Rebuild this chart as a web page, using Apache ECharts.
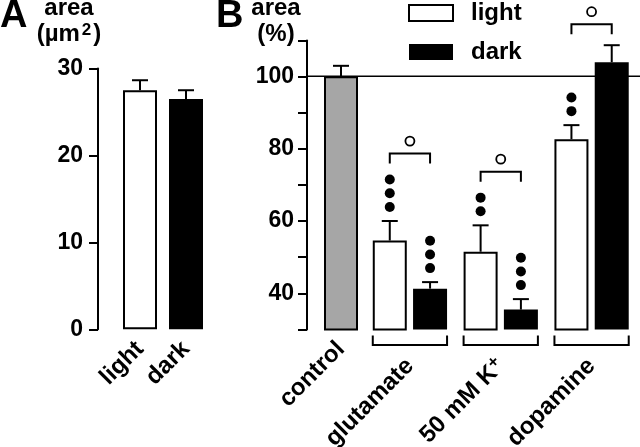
<!DOCTYPE html>
<html><head><meta charset="utf-8">
<script src="https://cdn.jsdelivr.net/npm/echarts@6/dist/echarts.min.js"></script>
<style>html,body{margin:0;padding:0;background:#fff}#c{width:640px;height:447px}</style>
</head><body><div id="c"></div>
<script>
// ---------- data ----------
const aCategories = ['light', 'dark'];
const aValues = [27.5, 26.5];
const aErrors = [1.15, 1.0];
const aTicks = [0, 10, 20, 30];

const bControlCategory = ['control'];
const bControlValue = [100];
const bControlError = [2.9];

const bCategories = ['glutamate', '50 mM K⁺', 'dopamine'];
const bLight = [54.6, 51.5, 82.6];
const bLightErr = [5.4, 7.3, 3.9];
const bDark = [41.3, 35.5, 103.9];
const bDarkErr = [1.8, 2.9, 4.7];
const bLightDots = [3, 2, 2];
const bDarkDots = [3, 3, 0];
const bPairSig = [1, 1, 1];
const bTickLabels = [40, 60, 80, 100];
const bRefLine = [100, 100];

// ---------- style constants ----------
const FONT = '"Liberation Sans", Arial, Helvetica, sans-serif';
const BAR_W = 34;
const BAR_GAP_PCT = 18.5;
const BAR_GAP_PX = BAR_W * BAR_GAP_PCT / 100;
const CAP = 8;
const DOT_R = 5, DOT_FIRST = 14, DOT_STEP = 13.7;
const LW = 2;
const B_MIN = 30, B_MAX = 109.9;
const GRAY = '#a6a6a6';

const chart = echarts.init(document.getElementById('c'), null, {renderer: 'canvas'});

function errShapes(x, yBar, yTop) {
  return [
    {type: 'line', shape: {x1: x, y1: yBar, x2: x, y2: yTop}, style: {stroke: '#000', lineWidth: LW}},
    {type: 'line', shape: {x1: x - CAP, y1: yTop, x2: x + CAP, y2: yTop}, style: {stroke: '#000', lineWidth: LW}}
  ];
}
function dotShapes(x, yTop, n, out) {
  let top = yTop;
  for (let k = 0; k < n; k++) {
    const cy = yTop - DOT_FIRST - k * DOT_STEP;
    out.push({type: 'circle', shape: {cx: x, cy: cy, r: DOT_R}, style: {fill: '#000'}});
    top = cy - DOT_R;
  }
  return top;
}

function renderSimpleErr(values, errors) {
  return function (params, api) {
    const i = params.dataIndex;
    const cat = api.value(0);
    const p1 = api.coord([cat, values[i]]);
    const p2 = api.coord([cat, values[i] + errors[i]]);
    return {type: 'group', children: errShapes(p1[0], p1[1], p2[1])};
  };
}

function renderB(params, api) {
  const i = params.dataIndex;
  const cat = api.value(0);
  const off = (BAR_W + BAR_GAP_PX) / 2;
  const base = api.coord([cat, B_MIN]);
  const cx = base[0], yBase = base[1];
  const xl = cx - off, xd = cx + off;
  const ch = [];
  const yLBar = api.coord([cat, bLight[i]])[1];
  const yLTop = api.coord([cat, bLight[i] + bLightErr[i]])[1];
  const yDBar = api.coord([cat, bDark[i]])[1];
  const yDTop = api.coord([cat, bDark[i] + bDarkErr[i]])[1];
  ch.push(...errShapes(xl, yLBar, yLTop));
  ch.push(...errShapes(xd, yDBar, yDTop));
  const tL = dotShapes(xl, yLTop, bLightDots[i], ch);
  const tD = dotShapes(xd, yDTop, bDarkDots[i], ch);
  if (bPairSig[i]) {
    const top = Math.min(tL, tD, yLTop, yDTop);
    const yEnd = top - 11;
    const yH = yEnd - 10;
    ch.push({type: 'polyline', shape: {points: [[xl, yEnd], [xl, yH], [xd, yH], [xd, yEnd]]},
             style: {stroke: '#000', lineWidth: LW, fill: null}});
    ch.push({type: 'circle', shape: {cx: cx, cy: yH - 12.5, r: 4.5},
             style: {stroke: '#000', lineWidth: 1.8, fill: '#fff'}});
  }
  // lower bracket grouping the pair
  const x0 = xl - BAR_W / 2, x1 = xd + BAR_W / 2;
  const yb0 = yBase + 6, yb1 = yBase + 15.5;
  ch.push({type: 'polyline', shape: {points: [[x0, yb0], [x0, yb1], [x1, yb1], [x1, yb0]]},
           style: {stroke: '#000', lineWidth: LW, fill: null}});
  return {type: 'group', children: ch};
}

const yLabelStyle = {color: '#000', fontFamily: FONT, fontWeight: 'bold', fontSize: 23};
const xLabelStyle = {color: '#000', fontFamily: FONT, fontWeight: 'bold', fontSize: 24, rotate: 45};

const gridTop = 40.5, gridBottom = 117.5;

const option = {
  animation: false,
  backgroundColor: '#fff',
  grid: [
    {left: 117, width: 92, top: 68.5, bottom: 117.7, outerBoundsMode: 'none', containLabel: false},
    {left: 307, width: 68, top: gridTop, bottom: gridBottom, outerBoundsMode: 'none', containLabel: false},
    {left: 364.5, width: 272.5, top: gridTop, bottom: gridBottom, outerBoundsMode: 'none', containLabel: false},
    {left: 307, right: 0, top: gridTop, bottom: gridBottom, outerBoundsMode: 'none', containLabel: false}
  ],
  xAxis: [
    {gridIndex: 0, type: 'category', data: aCategories, axisLine: {show: false}, axisTick: {show: false},
     axisLabel: Object.assign({margin: 16, interval: 0}, xLabelStyle)},
    {gridIndex: 1, type: 'category', data: bControlCategory, axisLine: {show: false}, axisTick: {show: false},
     axisLabel: Object.assign({margin: 16, interval: 0}, xLabelStyle)},
    {gridIndex: 2, type: 'category', data: bCategories, axisLine: {show: false}, axisTick: {show: false},
     axisLabel: Object.assign({margin: 33, interval: 0,
       formatter: function (v) { return v.indexOf('⁺') >= 0 ? '{n|' + v.replace('⁺', '') + '}{s|+}' : v; },
       rich: {n: {fontFamily: FONT, fontWeight: 'bold', fontSize: 24, color: '#000'},
              s: {fontFamily: FONT, fontWeight: 'bold', fontSize: 17, color: '#000', verticalAlign: 'top', padding: [0, 0, 10, 0]}}
     }, xLabelStyle)},
    {gridIndex: 3, type: 'category', data: ['', ''], boundaryGap: false, show: false}
  ],
  yAxis: [
    {gridIndex: 0, type: 'value', min: 0, max: 30, interval: 10, offset: 19,
     axisLine: {show: true, lineStyle: {color: '#000', width: LW}},
     axisTick: {show: true, length: 9, lineStyle: {color: '#000', width: LW}},
     splitLine: {show: false},
     axisLabel: Object.assign({margin: 15, formatter: function (v) { return aTicks.indexOf(v) >= 0 ? String(v) : ''; }}, yLabelStyle)},
    {gridIndex: 1, type: 'value', min: B_MIN, max: B_MAX, interval: 10,
     axisLine: {show: true, lineStyle: {color: '#000', width: LW}},
     axisTick: {show: true, length: 9, lineStyle: {color: '#000', width: LW}},
     splitLine: {show: false},
     axisLabel: Object.assign({margin: 13, formatter: function (v) { return bTickLabels.indexOf(v) >= 0 ? String(v) : ''; }}, yLabelStyle)},
    {gridIndex: 2, type: 'value', min: B_MIN, max: B_MAX, interval: 10, show: false},
    {gridIndex: 3, type: 'value', min: B_MIN, max: B_MAX, interval: 10, show: false}
  ],
  legend: {
    left: 408, top: 1, orient: 'vertical', selectedMode: false,
    itemWidth: 44, itemHeight: 16, itemGap: 15, icon: 'rect', padding: 0,
    textStyle: {fontFamily: FONT, fontWeight: 'bold', fontSize: 24, color: '#000', lineHeight: 16, padding: [0, 0, 0, 13]},
    data: [
      {name: 'light', itemStyle: {color: '#fff', borderColor: '#000', borderWidth: 2}},
      {name: 'dark', itemStyle: {color: '#000', borderColor: '#000', borderWidth: 0}}
    ]
  },
  graphic: [
    {type: 'text', left: 0, top: -2, style: {text: 'A', font: 'bold 38px ' + FONT, fill: '#000'}},
    {type: 'text', x: 69, y: 8.5, style: {text: 'area', font: 'bold 24px ' + FONT, fill: '#000', textAlign: 'center', textVerticalAlign: 'middle'}},
    {type: 'text', x: 69, y: 34.5, style: {text: '(µm{s|2})', font: 'bold 24px ' + FONT, fill: '#000', textAlign: 'center', textVerticalAlign: 'middle',
      rich: {s: {fontFamily: FONT, fontWeight: 'bold', fontSize: 17, fill: '#000', verticalAlign: 'top', padding: [0, 2, 8, 2]}}}},
    {type: 'text', left: 216, top: -2, style: {text: 'B', font: 'bold 38px ' + FONT, fill: '#000'}},
    {type: 'text', x: 276, y: 8.5, style: {text: 'area', font: 'bold 24px ' + FONT, fill: '#000', textAlign: 'center', textVerticalAlign: 'middle'}},
    {type: 'text', x: 276, y: 34.5, style: {text: '(%)', font: 'bold 24px ' + FONT, fill: '#000', textAlign: 'center', textVerticalAlign: 'middle'}}
  ],
  series: [
    {type: 'line', xAxisIndex: 3, yAxisIndex: 3, data: bRefLine, showSymbol: false, silent: true, z: 1,
     lineStyle: {color: '#000', width: 1.5}},
    {type: 'bar', xAxisIndex: 0, yAxisIndex: 0, barWidth: BAR_W, z: 2,
     data: aValues.map(function (v, i) {
       return {value: v, itemStyle: i === 0 ? {color: '#fff', borderColor: '#000', borderWidth: LW} : {color: '#000', borderColor: '#000', borderWidth: 0}};
     })},
    {type: 'custom', xAxisIndex: 0, yAxisIndex: 0, z: 3, clip: false,
     data: aValues.map(function (v, i) { return [i, v + aErrors[i]]; }),
     renderItem: renderSimpleErr(aValues, aErrors)},
    {type: 'bar', xAxisIndex: 1, yAxisIndex: 1, barWidth: BAR_W, z: 2,
     itemStyle: {color: GRAY, borderColor: '#000', borderWidth: LW},
     data: bControlValue},
    {type: 'custom', xAxisIndex: 1, yAxisIndex: 1, z: 3, clip: false,
     data: bControlValue.map(function (v, i) { return [i, v + bControlError[i]]; }),
     renderItem: renderSimpleErr(bControlValue, bControlError)},
    {name: 'light', type: 'bar', xAxisIndex: 2, yAxisIndex: 2, barWidth: BAR_W, barGap: BAR_GAP_PCT + '%', z: 2,
     itemStyle: {color: '#fff', borderColor: '#000', borderWidth: LW}, data: bLight},
    {name: 'dark', type: 'bar', xAxisIndex: 2, yAxisIndex: 2, barWidth: BAR_W, barGap: BAR_GAP_PCT + '%', z: 2,
     itemStyle: {color: '#000', borderColor: '#000', borderWidth: 0}, data: bDark},
    {type: 'custom', xAxisIndex: 2, yAxisIndex: 2, z: 3, clip: false,
     data: bCategories.map(function (c, i) { return [i, Math.max(bLight[i] + bLightErr[i], bDark[i] + bDarkErr[i])]; }),
     renderItem: renderB}
  ]
};
chart.setOption(option);
</script></body></html>
